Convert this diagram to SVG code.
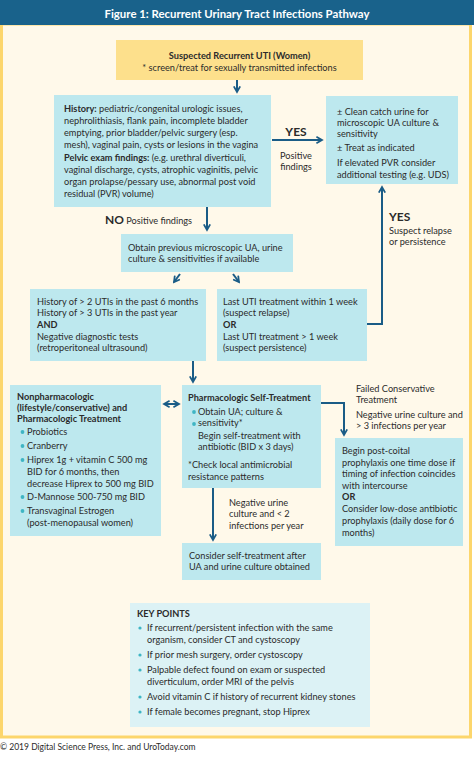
<svg xmlns="http://www.w3.org/2000/svg" width="474" height="773" viewBox="0 0 474 773">
<defs>
<style>
text{font-family:Lato,"Liberation Sans",sans-serif;font-size:9.2px;fill:#2b2b2b}
.b{font-weight:bold}
.t{font-size:11.4px;fill:#fff;font-weight:bold}
.lbl{font-size:12px;font-weight:bold}
.box{fill:#bde8ee}
.kp{fill:#dcf2f5}
.c{fill:none;stroke:#1a5c86;stroke-width:2}
.dot{fill:#3fb5c4}
</style>
<marker id="ah" viewBox="0 0 10 10" refX="8" refY="5" markerWidth="4" markerHeight="4" orient="auto-start-reverse" markerUnits="strokeWidth">
<path d="M1,1 L8,5 L1,9" fill="none" stroke="#1a5c86" stroke-width="2.2"/>
</marker>
</defs>
<rect x="0" y="0" width="474" height="773" fill="#fff"/>
<rect x="1.5" y="24" width="469" height="713" fill="#fff9ea" stroke="#fcd66c" stroke-width="3"/>
<rect x="0" y="0" width="474" height="25" fill="#19628b"/>
<text class="t" x="237" y="18" text-anchor="middle">Figure 1: Recurrent Urinary Tract Infections Pathway</text>

<g id="connectors">
<path class="c" d="M237,80 V92" marker-end="url(#ah)"/>
<path class="c" d="M272,140 H322" marker-end="url(#ah)"/>
<path class="c" d="M207,207 V230" marker-end="url(#ah)"/>
<path class="c" d="M180,274 L174,282" marker-end="url(#ah)"/>
<path class="c" d="M233,274 L239,282" marker-end="url(#ah)"/>
<path class="c" d="M367,324 H382 V187" marker-end="url(#ah)"/>
<path class="c" d="M193,361 V382" marker-end="url(#ah)"/>
<path class="c" d="M164,404 H179" marker-start="url(#ah)" marker-end="url(#ah)"/>
<path class="c" d="M321,403 H344 V435" marker-end="url(#ah)"/>
<path class="c" d="M213,488 V540" marker-end="url(#ah)"/>
</g>

<g id="labels">
<text class="lbl" x="296" y="136" text-anchor="middle">YES</text>
<text x="296" y="159" text-anchor="middle">Positive</text>
<text x="296" y="170" text-anchor="middle">findings</text>
<text x="105" y="224"><tspan class="lbl">NO</tspan> Positive findings</text>
<text class="lbl" x="389" y="221">YES</text>
<text x="389" y="234">Suspect relapse</text>
<text x="389" y="245">or persistence</text>
<text x="356" y="392">Failed Conservative</text>
<text x="356" y="403">Treatment</text>
<text x="356" y="418">Negative urine culture and</text>
<text x="356" y="429">&gt; 3 infections per year</text>
<text x="229" y="506">Negative urine</text>
<text x="229" y="517">culture and &lt; 2</text>
<text x="229" y="529">infections per year</text>
</g>

<g id="n-top">
<rect x="116" y="40" width="247" height="40" fill="#fde08c"/>
<text class="b" x="239.5" y="59" text-anchor="middle">Suspected Recurrent UTI (Women)</text>
<text x="239.5" y="71" text-anchor="middle">* screen/treat for sexually transmitted infections</text>
</g>

<g id="n-history">
<rect class="box" x="54" y="95" width="217" height="112"/>
<text x="64" y="112"><tspan class="b">History:</tspan> pediatric/congenital urologic issues,</text>
<text x="64" y="124">nephrolithiasis, flank pain, incomplete bladder</text>
<text x="64" y="136">emptying, prior bladder/pelvic surgery (esp.</text>
<text x="64" y="148">mesh), vaginal pain, cysts or lesions in the vagina</text>
<text x="64" y="161"><tspan class="b">Pelvic exam findings:</tspan> (e.g. urethral diverticuli,</text>
<text x="64" y="173">vaginal discharge, cysts, atrophic vaginitis, pelvic</text>
<text x="64" y="185">organ prolapse/pessary use, abnormal post void</text>
<text x="64" y="197">residual (PVR) volume)</text>
</g>

<g id="n-cleancatch">
<rect class="box" x="326" y="96" width="132" height="88"/>
<text x="337" y="115">± Clean catch urine for</text>
<text x="337" y="126">microscopic UA culture &amp;</text>
<text x="337" y="137">sensitivity</text>
<text x="337" y="151">± Treat as indicated</text>
<text x="337" y="166">If elevated PVR consider</text>
<text x="337" y="178">additional testing (e.g. UDS)</text>
</g>

<g id="n-obtain">
<rect class="box" x="121" y="234" width="172" height="38"/>
<text x="128" y="251">Obtain previous microscopic UA, urine</text>
<text x="128" y="262">culture &amp; sensitivities if available</text>
</g>

<g id="n-history2">
<rect class="box" x="30" y="289" width="176" height="72"/>
<text x="37" y="305">History of &gt; 2 UTIs in the past 6 months</text>
<text x="37" y="316">History of &gt; 3 UTIs in the past year</text>
<text class="b" x="37" y="328">AND</text>
<text x="37" y="340">Negative diagnostic tests</text>
<text x="37" y="351">(retroperitoneal ultrasound)</text>
</g>

<g id="n-lastuti">
<rect class="box" x="217" y="289" width="150" height="72"/>
<text x="223" y="305">Last UTI treatment within 1 week</text>
<text x="223" y="316">(suspect relapse)</text>
<text class="b" x="223" y="328">OR</text>
<text x="223" y="340">Last UTI treatment &gt; 1 week</text>
<text x="223" y="351">(suspect persistence)</text>
</g>

<g id="n-nonpharm">
<rect class="box" x="10" y="385" width="151" height="151"/>
<text class="b" x="17" y="400">Nonpharmacologic</text>
<text class="b" x="17" y="411">(lifestyle/conservative) and</text>
<text class="b" x="17" y="422">Pharmacologic Treatment</text>
<circle class="dot" cx="22.5" cy="432" r="1.9"/>
<text x="27" y="435">Probiotics</text>
<circle class="dot" cx="22.5" cy="446" r="1.9"/>
<text x="27" y="449">Cranberry</text>
<circle class="dot" cx="22.5" cy="460" r="1.9"/>
<text x="27" y="463">Hiprex 1g + vitamin C 500 mg</text>
<text x="27" y="475">BID for 6 months, then</text>
<text x="27" y="487">decrease Hiprex to 500 mg BID</text>
<circle class="dot" cx="22.5" cy="497" r="1.9"/>
<text x="27" y="500">D-Mannose 500-750 mg BID</text>
<circle class="dot" cx="22.5" cy="511" r="1.9"/>
<text x="27" y="514">Transvaginal Estrogen</text>
<text x="27" y="526">(post-menopausal women)</text>
</g>

<g id="n-pharm">
<rect class="box" x="182" y="385" width="139" height="103"/>
<text class="b" x="188" y="401">Pharmacologic Self-Treatment</text>
<circle class="dot" cx="194" cy="412" r="1.9"/>
<text x="198" y="415">Obtain UA; culture &amp;</text>
<circle class="dot" cx="194" cy="424" r="1.9"/>
<text x="198" y="426">sensitivity*</text>
<text x="198" y="439">Begin self-treatment with</text>
<text x="198" y="450">antibiotic (BID x 3 days)</text>
<text x="188" y="468">*Check local antimicrobial</text>
<text x="188" y="480">resistance patterns</text>
</g>

<g id="n-prophylaxis">
<rect class="box" x="335" y="438" width="128" height="108"/>
<text x="342" y="454">Begin post-coital</text>
<text x="342" y="466">prophylaxis one time dose if</text>
<text x="342" y="477">timing of infection coincides</text>
<text x="342" y="489">with intercourse</text>
<text class="b" x="342" y="500">OR</text>
<text x="342" y="512">Consider low-dose antibiotic</text>
<text x="342" y="524">prophylaxis (daily dose for 6</text>
<text x="342" y="536">months)</text>
</g>

<g id="n-consider">
<rect class="box" x="182" y="543" width="139" height="37"/>
<text x="189" y="559">Consider self-treatment after</text>
<text x="189" y="570">UA and urine culture obtained</text>
</g>

<g id="n-keypoints">
<rect class="kp" x="130" y="603" width="240" height="124"/>
<text class="b" x="137" y="617">KEY POINTS</text>
<circle class="dot" cx="140" cy="628" r="1.6"/>
<text x="147" y="631">If recurrent/persistent infection with the same</text>
<text x="147" y="643">organism, consider CT and cystoscopy</text>
<circle class="dot" cx="140" cy="655" r="1.6"/>
<text x="147" y="658">If prior mesh surgery, order cystoscopy</text>
<circle class="dot" cx="140" cy="670" r="1.6"/>
<text x="147" y="673">Palpable defect found on exam or suspected</text>
<text x="147" y="685">diverticulum, order MRI of the pelvis</text>
<circle class="dot" cx="140" cy="697" r="1.6"/>
<text x="147" y="700">Avoid vitamin C if history of recurrent kidney stones</text>
<circle class="dot" cx="140" cy="712" r="1.6"/>
<text x="147" y="715">If female becomes pregnant, stop Hiprex</text>
</g>

<text x="0" y="750" style="font-size:8.5px">© 2019 Digital Science Press, Inc. and UroToday.com</text>
</svg>
